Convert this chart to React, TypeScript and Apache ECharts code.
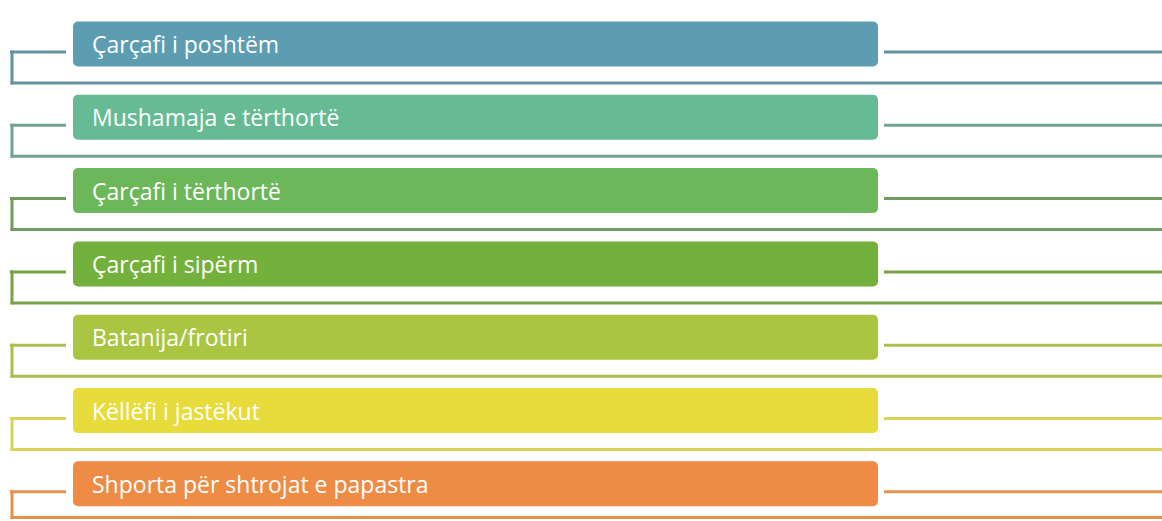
import React, { useEffect, useRef } from "react";
import * as echarts from "echarts";

const labels = [
  "Çarçafi i poshtëm",
  "Mushamaja e tërthortë",
  "Çarçafi i tërthortë",
  "Çarçafi i sipërm",
  "Batanija/frotiri",
  "Këllëfi i jastëkut",
  "Shporta për shtrojat e papastra",
];
const boxColors = ["#5c9db2", "#66bb94", "#6db75b", "#74b13c", "#a9c542", "#e7dc3b", "#ee8b45"];
const lineColors = ["#6592a0", "#70a48f", "#6f9c5f", "#77a24a", "#a9c04e", "#d8d45a", "#e39150"];

export default function App() {
  const ref = useRef<HTMLDivElement>(null);
  useEffect(() => {
    const chart = echarts.init(ref.current!, null, { renderer: "svg" });
    const W = 1162;
    const H = 521;
    const firstTop = 21.5;
    const pitch = 73.3;
    const boxH = 45;
    const option: any = {
      animation: false,
      backgroundColor: "#ffffff",
      grid: { left: 0, right: 0, top: 0, bottom: 0, containLabel: false },
      xAxis: { type: "value", min: 0, max: W, show: false },
      yAxis: { type: "value", min: 0, max: H, inverse: true, show: false },
      series: [
        {
          type: "custom",
          data: labels.map((l, i) => [i, l]),
          renderItem: (params: any, api: any) => {
            const i = api.value(0);
            const top = firstTop + pitch * i;
            const p = (x: number, y: number) => api.coord([x, y]);
            const stubY = top + 30.5;
            const bottomY = Math.min(top + 61.5, 517.5);
            const lc = lineColors[i];
            const b0 = p(73, top);
            const b1 = p(878, top + boxH);
            const lineStyle = { stroke: lc, lineWidth: 3, fill: null };
            const mk = (x1: number, y1: number, x2: number, y2: number) => {
              const a = p(x1, y1);
              const b = p(x2, y2);
              return { type: "line", shape: { x1: a[0], y1: a[1], x2: b[0], y2: b[1] }, style: lineStyle };
            };
            const tp = p(92, top + boxH / 2);
            return {
              type: "group",
              children: [
                mk(10, stubY, 66, stubY),
                mk(12, stubY - 1.5, 12, bottomY + 1.5),
                mk(10.5, bottomY, W, bottomY),
                mk(884, stubY, W, stubY),
                {
                  type: "rect",
                  shape: { x: b0[0], y: b0[1], width: b1[0] - b0[0], height: b1[1] - b0[1], r: 5 },
                  style: { fill: boxColors[i] },
                },
                {
                  type: "text",
                  x: tp[0],
                  y: tp[1],
                  style: {
                    text: labels[i],
                    fill: "#ffffff",
                    font: "23px 'Open Sans', sans-serif",
                    textVerticalAlign: "middle",
                    textAlign: "left",
                  },
                },
              ],
            };
          },
        },
      ],
    };
    chart.setOption(option);
    return () => chart.dispose();
  }, []);
  return (
    <div
      ref={ref}
      style={{ position: "fixed", left: 0, top: 0, width: 1162, height: 521, background: "#fff" }}
    />
  );
}
